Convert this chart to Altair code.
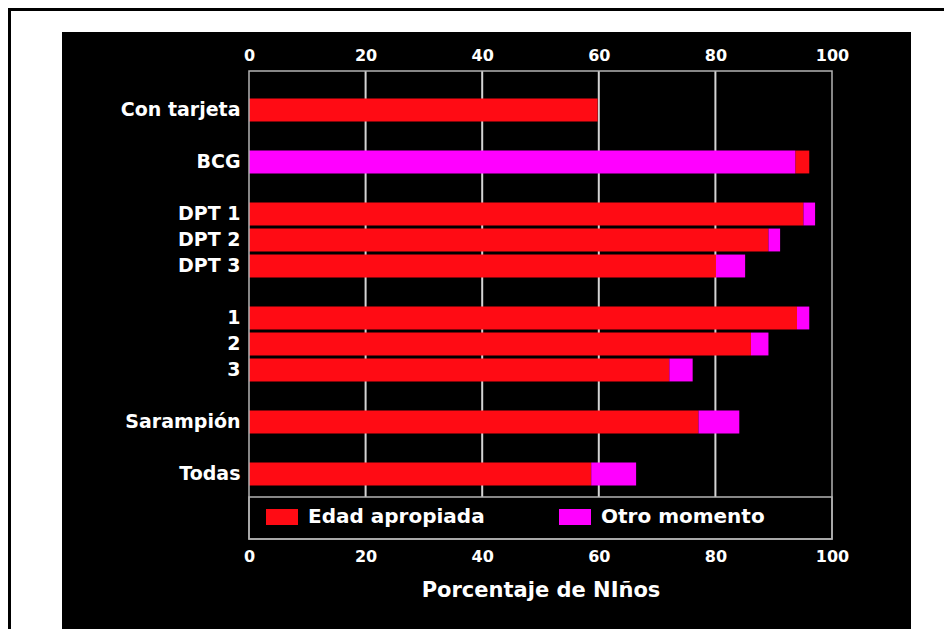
import altair as alt
import pandas as pd

# ---- data ----
categorias = ["Con tarjeta", "BCG", "DPT 1", "DPT 2", "DPT 3", "1", "2", "3", "Sarampión", "Todas"]
edad_apropiada = [59.8, 2.4, 95.1, 89.1, 80.1, 94.0, 86.1, 72.1, 77.1, 58.7]
otro_momento = [0.0, 93.7, 2.0, 2.0, 5.0, 2.1, 3.0, 4.0, 7.0, 7.7]
otro_primero = [False, True, False, False, False, False, False, False, False, False]
series = ["Edad apropiada", "Otro momento"]
colores = ["#ff0b14", "#ff00ff"]
ticks_x = [0, 20, 40, 60, 80, 100]
rejilla = [20, 40, 60, 80]
# row layout (blank slots start with "_")
filas = ["_0", "Con tarjeta", "_1", "BCG", "_2", "DPT 1", "DPT 2", "DPT 3", "_3",
         "1", "2", "3", "_4", "Sarampión", "_5", "Todas", "_6", "_7"]

rows = []
for c, e, o, p in zip(categorias, edad_apropiada, otro_momento, otro_primero):
    rows.append({"cat": c, "serie": series[0], "valor": e, "orden": 1 if p else 0})
    if o > 0:
        rows.append({"cat": c, "serie": series[1], "valor": o, "orden": 0 if p else 1})
df = pd.DataFrame(rows)
grid_df = pd.DataFrame({"t": rejilla})
one = pd.DataFrame({"k": [0]})

W, H = 583, 468
LEG_TOP = 426
FONT = "DejaVu Sans"

x_scale = alt.Scale(domain=[0, 100], nice=False, zero=True)
axis_common = dict(values=ticks_x, labelFont=FONT, labelFontSize=16, labelFontWeight="bold",
                   labelColor="white", labelFlush=False, ticks=False, domain=False,
                   grid=False, zindex=1)

panel = alt.Chart(one).mark_rect(color="black").encode(
    x=alt.value(-187), x2=alt.value(662), y=alt.value(-39), y2=alt.value(570))
borde_sup = alt.Chart(one).mark_rect(color="black").encode(
    x=alt.value(-249), x2=alt.value(695), y=alt.value(-66), y2=alt.value(-60))
borde_izq = alt.Chart(one).mark_rect(color="black").encode(
    x=alt.value(-243), x2=alt.value(-238), y=alt.value(-66), y2=alt.value(560))

grid = alt.Chart(grid_df).mark_rule(color="#d4d4d4", strokeWidth=2).encode(
    x=alt.X("t:Q", scale=x_scale,
            axis=alt.Axis(orient="top", title=None, labelPadding=8, **axis_common)),
    y=alt.value(0), y2=alt.value(LEG_TOP))

bars = alt.Chart(df).mark_bar(strokeWidth=0).encode(
    x=alt.X("valor:Q", stack="zero", scale=x_scale,
            axis=alt.Axis(orient="bottom", title="Porcentaje de NIños", labelPadding=9,
                          titleFont=FONT, titleFontSize=21, titleFontWeight="bold",
                          titleColor="white", titlePadding=15, **axis_common)),
    y=alt.Y("cat:N", sort=filas,
            scale=alt.Scale(domain=filas, paddingInner=0.12, paddingOuter=0.06),
            axis=alt.Axis(title=None, labelExpr="indexof(datum.label, '_') == 0 ? '' : datum.label",
                          labelFont=FONT, labelFontSize=19, labelFontWeight="bold",
                          labelColor="white", labelPadding=9, ticks=False, domain=False,
                          grid=False, zindex=1)),
    color=alt.Color("serie:N", scale=alt.Scale(domain=series, range=colores),
                    legend=alt.Legend(orient="none", legendX=17, legendY=430,
                                      direction="horizontal", title=None,
                                      symbolType="M-1,-0.5H1V0.5H-1Z", symbolSize=1024,
                                      symbolStrokeWidth=0, symbolOpacity=1,
                                      labelFont=FONT, labelFontSize=20, labelFontWeight="bold",
                                      labelColor="white", labelOffset=10, columnPadding=74,
                                      labelLimit=400, padding=0, zindex=2)),
    order=alt.Order("orden:Q"))

caja_leyenda = alt.Chart(one).mark_rect(fill="black", stroke="#b4b4b4", strokeWidth=1.5).encode(
    x=alt.value(0), x2=alt.value(W), y=alt.value(LEG_TOP), y2=alt.value(H))
marco = alt.Chart(one).mark_rect(fillOpacity=0, stroke="#b4b4b4", strokeWidth=1.5).encode(
    x=alt.value(0), x2=alt.value(W), y=alt.value(0), y2=alt.value(H))

chart = alt.layer(panel, borde_sup, borde_izq, grid, bars, caja_leyenda, marco).properties(
    width=W, height=H,
    autosize=alt.AutoSizeParams(type="none"),
    padding={"left": 241, "top": 63, "right": 112, "bottom": 90},
    background="white",
).configure_view(stroke=None)

chart.save("out.html", embed_options={"renderer": "svg", "actions": False})
